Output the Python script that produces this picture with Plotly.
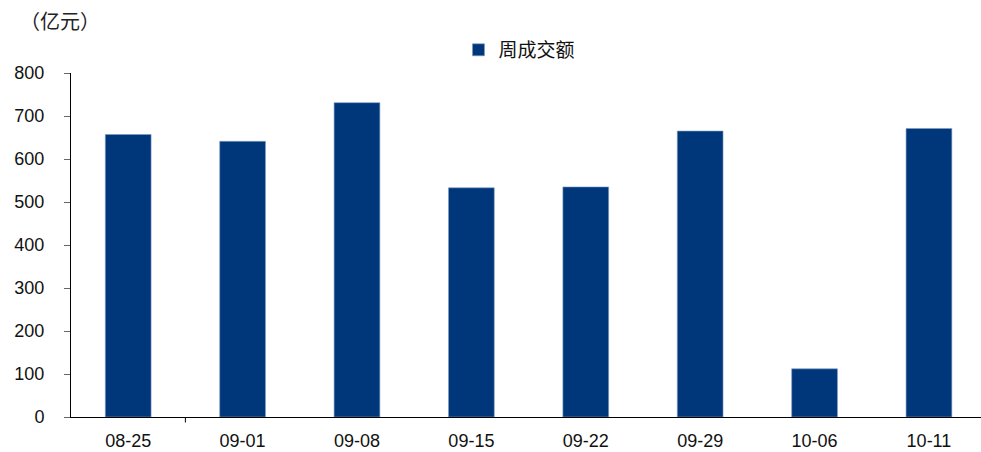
import plotly.graph_objects as go

# Weekly turnover (100 million yuan)
weeks = ["08-25", "09-01", "09-08", "09-15", "09-22", "09-29", "10-06", "10-11"]
turnover = [657, 641, 731, 533, 535, 665, 112, 671]
y_ticks = [0, 100, 200, 300, 400, 500, 600, 700, 800]

bar_color = "#00377A"

fig = go.Figure()
fig.add_trace(go.Bar(
    x=weeks,
    y=turnover,
    name="周成交额",
    marker=dict(color=bar_color, line=dict(color="#7f9cc4", width=0.6)),
    width=0.4,
))

# single tick mark on the category axis, between the first two weeks
fig.add_shape(type="line", xref="x", yref="paper", x0=0.5, x1=0.5, y0=0, y1=-0.016,
              line=dict(color="black", width=1))

fig.add_annotation(text="（亿元）", xref="paper", yref="paper", x=-0.058, y=1.154,
                   xanchor="left", yanchor="middle", showarrow=False,
                   font=dict(family="Noto Sans CJK SC", size=20, color="#222"))

fig.update_layout(
    width=981, height=452,
    margin=dict(l=71, r=0, t=73, b=35),
    paper_bgcolor="white", plot_bgcolor="white",
    showlegend=True,
    legend=dict(orientation="h", x=0.4258, y=1.067, xanchor="left", yanchor="middle",
                font=dict(family="Noto Sans CJK SC", size=19, color="#111"),
                bgcolor="rgba(0,0,0,0)"),
    xaxis=dict(type="category", range=[-0.5, 7.455], showline=True, linecolor="black",
               linewidth=1, ticks="", showgrid=False, ticklabelstandoff=7,
               automargin=False,
               tickfont=dict(family="Liberation Sans", size=18, color="#111")),
    yaxis=dict(range=[0, 800], tickvals=y_ticks, showline=True, linecolor="black",
               linewidth=1, ticks="outside", ticklen=6, tickcolor="#666",
               showgrid=False, zeroline=False, ticklabelstandoff=16,
               automargin=False,
               tickfont=dict(family="Liberation Sans", size=18, color="#111")),
    bargap=0.6,
)

fig.write_html("out.html")
